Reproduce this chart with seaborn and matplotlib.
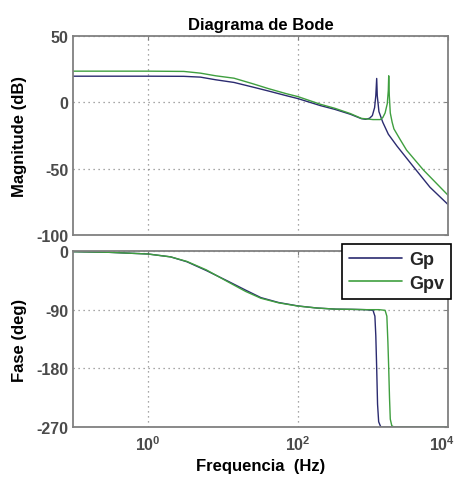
import numpy as np
import pandas as pd
import matplotlib
matplotlib.use("Agg")
import matplotlib.pyplot as plt
import seaborn as sns
from matplotlib.ticker import FixedLocator, FixedFormatter, NullLocator
from matplotlib.lines import Line2D
import matplotlib.transforms as mtransforms

# ---------------- data ----------------
mag_gp_f = [0.1, 1, 3, 5, 8, 14, 25, 40, 70, 100, 200, 310, 500, 700, 800, 900, 980, 1050, 1090, 1120, 1140, 1200, 1350, 1600, 2090, 3400, 5750, 10000]
mag_gp_db = [19.7, 19.7, 19.6, 19.0, 17.0, 15.0, 11.5, 8.6, 5.0, 2.8, -2.5, -5.3, -9.0, -12.3, -12.8, -12.0, -10.0, -4.0, 5.0, 18.0, 5.0, -7.0, -15.0, -24.0, -33.0, -48.0, -64.0, -77.0]

mag_gpv_f = [0.1, 1, 3, 5, 8, 14, 25, 40, 70, 100, 200, 310, 500, 700, 1000, 1250, 1350, 1450, 1550, 1600, 1620, 1650, 1700, 1800, 1900, 2300, 2800, 4700, 10000]
mag_gpv_db = [23.5, 23.5, 23.3, 22.0, 20.0, 18.2, 14.0, 10.4, 6.5, 4.3, -1.5, -4.5, -8.5, -12.1, -13.0, -13.0, -11.5, -8.0, -1.0, 9.0, 20.0, 5.0, -8.0, -15.0, -20.0, -28.0, -36.0, -51.0, -70.0]

ph_gp_f = [0.1, 0.3, 1, 2, 3.3, 6, 11.5, 20, 32, 55, 100, 180, 320, 520, 800, 1000, 1060, 1090, 1120, 1150, 1190, 1260, 1300, 10000]
ph_gp_deg = [-1, -2, -4.6, -9, -16.5, -30, -46, -60, -71.5, -79, -84.3, -87.5, -89.2, -89.5, -90, -91, -100, -130, -180, -235, -262, -269, -270, -270]

ph_gpv_f = [0.1, 0.3, 1, 2, 3.3, 6, 11.5, 20, 32, 55, 100, 180, 320, 520, 800, 1200, 1450, 1530, 1580, 1620, 1660, 1700, 1780, 1900, 10000]
ph_gpv_deg = [-1, -2, -4.6, -9, -16, -29, -47, -62, -72.5, -79.5, -84.5, -87.5, -89.2, -89.5, -90, -90, -91, -100, -140, -180, -225, -258, -268, -270, -270]

series_names = ["Gp", "Gpv"]
colors = {"Gp": "#2b2b70", "Gpv": "#3f9f3f"}

mag_df = pd.concat([
    pd.DataFrame({"f": mag_gp_f, "v": mag_gp_db, "s": "Gp"}),
    pd.DataFrame({"f": mag_gpv_f, "v": mag_gpv_db, "s": "Gpv"}),
])
ph_df = pd.concat([
    pd.DataFrame({"f": ph_gp_f, "v": ph_gp_deg, "s": "Gp"}),
    pd.DataFrame({"f": ph_gpv_f, "v": ph_gpv_deg, "s": "Gpv"}),
])

# ---------------- style ----------------
sns.set_style("white")
fam = ["Liberation Sans Narrow", "Liberation Sans", "DejaVu Sans"]
plt.rcParams["font.family"] = fam
plt.rcParams["font.weight"] = "bold"
plt.rcParams["axes.unicode_minus"] = False
plt.rcParams["mathtext.fontset"] = "custom"
plt.rcParams["mathtext.rm"] = "Liberation Sans:bold"
plt.rcParams["mathtext.bf"] = "Liberation Sans:bold"

W, H = 458, 481
fig = plt.figure(figsize=(W / 100, H / 100), dpi=100)

def px_axes(l, t, r, b):
    return fig.add_axes([l / W, 1 - b / H, (r - l) / W, (b - t) / H])

ax1 = px_axes(73, 37, 448, 236)
ax2 = px_axes(73, 252, 448, 428)

frame_col = "#808080"
tick_col = "#4a4a4a"
grid_kw = dict(color="#8a8a8a", linestyle=(0, (1, 3)), linewidth=0.9)

for ax, df in ((ax1, mag_df), (ax2, ph_df)):
    sns.lineplot(data=df, x="f", y="v", hue="s", palette=colors, hue_order=series_names,
                 ax=ax, linewidth=1.0, legend=False, sort=False, estimator=None)
    ax.set_xscale("log")
    ax.set_xlim(0.1, 1e4)
    ax.xaxis.set_major_locator(FixedLocator([1, 100, 1e4]))
    ax.xaxis.set_minor_locator(NullLocator())
    for sp in ax.spines.values():
        sp.set_color(frame_col)
        sp.set_linewidth(1.3)
    ax.tick_params(direction="in", length=3, width=0.8, colors=frame_col,
                   labelcolor=tick_col, labelsize=11.5, top=True, right=True)
    ax.grid(True, **grid_kw)
    ax.set_xlabel("")
    ax.set_ylabel("")

ax1.set_ylim(-100, 50)
ax1.yaxis.set_major_locator(FixedLocator([-100, -50, 0, 50]))
ax1.set_xticklabels([])

ax2.set_ylim(-270, 0)
ax2.yaxis.set_major_locator(FixedLocator([-270, -180, -90, 0]))
ax2.xaxis.set_major_formatter(FixedFormatter([r"$10^{0}$", r"$10^{2}$", r"$10^{4}$"]))
ax2.tick_params(axis="x", pad=5)
# keep the last decade label inside the canvas (reference shows it at the edge)
last = ax2.get_xticklabels()[-1]
last.set_transform(last.get_transform() + mtransforms.ScaledTranslation(-6 / 100, 0, fig.dpi_scale_trans))

ax1.set_title("Diagrama de Bode", fontsize=12, fontweight="bold", color="black", pad=5)
ax1.set_ylabel("Magnitude (dB)", fontsize=12, fontweight="bold", color="black")
ax2.set_ylabel("Fase (deg)", fontsize=12, fontweight="bold", color="black")
ax1.yaxis.set_label_coords(-(73 - 27) / 375, 0.5)
ax2.yaxis.set_label_coords(-(73 - 27) / 375, 0.5)
ax2.set_xlabel("Frequencia  (Hz)", fontsize=12, fontweight="bold", color="black", labelpad=4)

handles = [Line2D([], [], color=colors[n], linewidth=1.2) for n in series_names]
leg = fig.legend(handles, series_names, loc="upper right",
                 bbox_to_anchor=(451 / W, 1 - 245 / H), bbox_transform=fig.transFigure,
                 fancybox=False, framealpha=1, edgecolor="black", fontsize=13,
                 handlelength=2.9, handletextpad=0.4, borderpad=0.4, labelspacing=0.35,
                 borderaxespad=0)
leg.get_frame().set_linewidth(1.2)
for t in leg.get_texts():
    t.set_fontweight("bold")

fig.savefig("out.png", dpi=100)
